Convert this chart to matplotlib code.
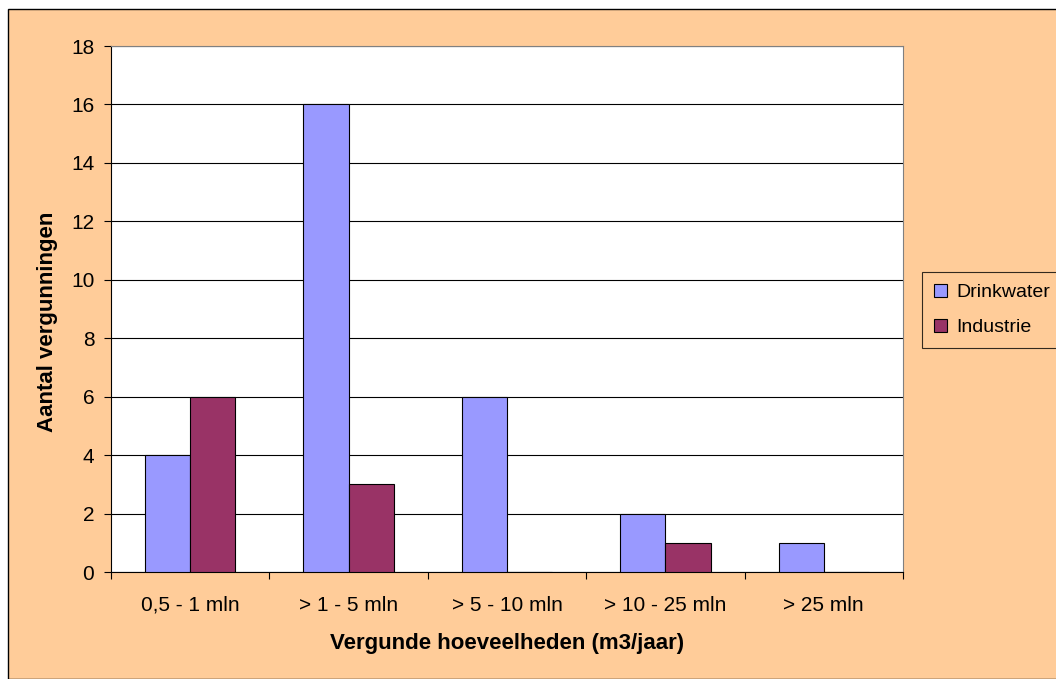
import matplotlib.pyplot as plt
import matplotlib.patches as mpatches
import numpy as np

plt.rcParams['font.family'] = ['Liberation Sans', 'DejaVu Sans']

# Data
categories = ["0,5 - 1 mln", "> 1 - 5 mln", "> 5 - 10 mln", "> 10 - 25 mln", "> 25 mln"]
drinkwater = [4, 16, 6, 2, 1]
industrie = [6, 3, 0, 1, 0]
series_names = ["Drinkwater", "Industrie"]

bg = "#FFCC99"
c_drink = "#9999FF"
c_ind = "#993366"

W, H = 1056, 679
fig = plt.figure(figsize=(W / 100, H / 100), dpi=100)
fig.patch.set_facecolor("white")

# outer chart frame (right edge cut off like the original)
frame = mpatches.Rectangle((8 / W, 0.0), 1.1, 1 - 9 / H, transform=fig.transFigure,
                           facecolor=bg, edgecolor="black", linewidth=1.0, zorder=-10)
fig.patches.append(frame)

ax = fig.add_axes([111 / W, 1 - 572 / H, 792 / W, 526 / H])
ax.set_facecolor("white")

x = np.arange(len(categories))
w = 0.285
ax.bar(x - w / 2, drinkwater, w, color=c_drink, edgecolor="black", linewidth=0.8,
       label=series_names[0], zorder=3)
ax.bar(x + w / 2, industrie, w, color=c_ind, edgecolor="black", linewidth=0.8,
       label=series_names[1], zorder=3)

ax.set_xlim(-0.5, len(categories) - 0.5)
ax.set_ylim(0, 18)
ax.set_yticks(range(0, 19, 2))
ax.yaxis.grid(True, color="black", linewidth=0.8, zorder=0)
ax.set_axisbelow(True)

# x ticks at category boundaries, labels centered
ax.set_xticks(np.arange(-0.5, len(categories), 1.0))
ax.set_xticklabels([])
ax.set_xticks(x, minor=True)
ax.set_xticklabels(categories, minor=True, fontsize=15)
ax.tick_params(axis="x", which="minor", length=0, pad=17)
ax.tick_params(axis="x", which="major", length=5, direction="out")
ax.tick_params(axis="y", length=5, direction="out", labelsize=15, pad=7)

for side in ["top", "right"]:
    ax.spines[side].set_color("#808080")
ax.spines["left"].set_color("black")
ax.spines["bottom"].set_color("black")

ax.set_ylabel("Aantal vergunningen", fontsize=16, fontweight="bold")
ax.yaxis.label.set_va("center")
ax.yaxis.set_label_coords((48 - 111) / 792, (572 - 322) / 526)
ax.set_xlabel("Vergunde hoeveelheden (m3/jaar)", fontsize=16, fontweight="bold")
ax.xaxis.label.set_va("center")
ax.xaxis.set_label_coords(0.5, (572 - 644) / 526)

leg = fig.legend(loc="upper left",
                 bbox_to_anchor=(922 / W, 1 - 345 / H, 200 / W, 73 / H),
                 mode="expand", fontsize=14, frameon=True, fancybox=False,
                 handlelength=0.67, handleheight=0.67, handletextpad=0.46,
                 borderpad=0.62, labelspacing=0.9, borderaxespad=0)
leg.get_frame().set_facecolor(bg)
leg.get_frame().set_edgecolor("black")
leg.get_frame().set_linewidth(0.8)

fig.savefig("out.png", dpi=100, facecolor=fig.get_facecolor())
